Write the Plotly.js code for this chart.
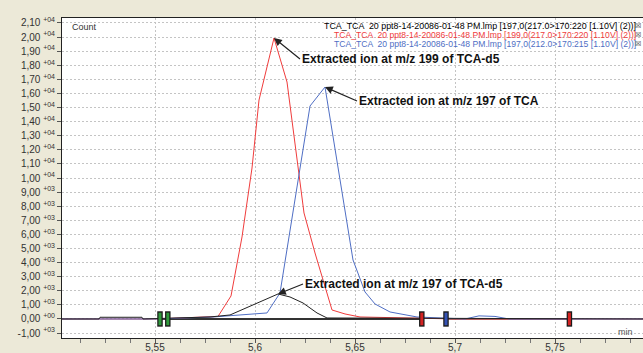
<!DOCTYPE html>
<html>
<head>
<meta charset="utf-8">
<script src="https://cdn.plot.ly/plotly-3.0.1.min.js"></script>
<style>html,body{margin:0;padding:0;background:#ECE9D8;}#chart{width:643px;height:353px;}</style>
</head>
<body>
<div id="chart"></div>
<script>
// ---- data (retention time in min, counts) ----
const redTime   = [5.5035, 5.55, 5.5815, 5.588, 5.5935, 5.5985, 5.602, 5.6095, 5.616, 5.6215, 5.6245, 5.63, 5.6385, 5.645, 5.6525, 5.70, 5.794];
const redCounts = [0, 0, 177, 1631, 5816, 10709, 15532, 19929, 16809, 10567, 7518, 4681, 638, 355, 142, 0, 0];

const blueTime   = [5.5035, 5.55, 5.579, 5.606, 5.6125, 5.6225, 5.6275, 5.635, 5.649, 5.655, 5.66, 5.6675, 5.681, 5.705, 5.712, 5.72, 5.727, 5.794];
const blueCounts = [0, 0, 142, 426, 1844, 10780, 15106, 16454, 4184, 1915, 1064, 496, 142, 0, 220, 180, 0, 0];

const blackTime   = [5.5035, 5.522, 5.5225, 5.5435, 5.544, 5.5775, 5.5875, 5.5975, 5.604, 5.6115, 5.6175, 5.624, 5.631, 5.636, 5.794];
const blackCounts = [0, 0, 120, 120, 0, 142, 284, 922, 1348, 1773, 1560, 1135, 426, 71, 0];

const baseTime1 = [5.5525, 5.6834];
const baseCounts1 = [0, 0];
const baseTime2 = [5.6955, 5.7572];
const baseCounts2 = [0, 0];

const markerTime  = [5.5525, 5.5564, 5.6834, 5.6955, 5.7572];
const markerCounts = [0, 0, 0, 0, 0];
const markerColor = ['#2f9a3c', '#2f9a3c', '#d42222', '#3452b4', '#d42222'];

const xTickVals   = [5.55, 5.6, 5.65, 5.7, 5.75];
const xTickLabels = ['5,55', '5,6', '5,65', '5,7', '5,75'];

const yTickVals = [-1000, 0, 1000, 2000, 3000, 4000, 5000, 6000, 7000, 8000, 9000,
  10000, 11000, 12000, 13000, 14000, 15000, 16000, 17000, 18000, 19000, 20000, 21000];
const yTickMantissa = ['-1,00', '0,00', '1,00', '2,00', '3,00', '4,00', '5,00', '6,00', '7,00', '8,00', '9,00',
  '1,00', '1,10', '1,20', '1,30', '1,40', '1,50', '1,60', '1,70', '1,80', '1,90', '2,00', '2,10'];
const yTickExponent = ['+03', '+00', '+03', '+03', '+03', '+03', '+03', '+03', '+03', '+03', '+03',
  '+04', '+04', '+04', '+04', '+04', '+04', '+04', '+04', '+04', '+04', '+04', '+04'];

const legendLines = [
  'TCA_TCA  20 ppt8-14-20086-01-48 PM.lmp [197,0(217.0>170:220 [1.10V] (2))]',
  'TCA_TCA  20 ppt8-14-20086-01-48 PM.lmp [199,0(217.0>170:220 [1.10V] (2))]',
  'TCA_TCA  20 ppt8-14-20086-01-48 PM.lmp [197,0(212.0>170:215 [1.10V] (2))]'
];
const peakLabels = [
  'Extracted ion at m/z 199 of TCA-d5',
  'Extracted ion at m/z 197 of TCA',
  'Extracted ion at m/z 197 of TCA-d5'
];

// ---- styling ----
const RED = '#f03c3c', BLUE = '#4f6ec4', BLACK = '#222222';
const yTickText = yTickMantissa.map((m, i) => m + ' <sup>' + yTickExponent[i] + '</sup>');

function peakIndex(arr) { let k = 0; arr.forEach((v, i) => { if (v > arr[k]) k = i; }); return k; }
const rp = peakIndex(redCounts), bp = peakIndex(blueCounts), kp = peakIndex(blackCounts);

const traces = [
  {x: baseTime1, y: baseCounts1, mode: 'lines', line: {color: '#333', width: 2}, hoverinfo: 'skip'},
  {x: baseTime2, y: baseCounts2, mode: 'lines', line: {color: '#555', width: 1.5}, hoverinfo: 'skip'},
  {x: redTime, y: redCounts, mode: 'lines', line: {color: RED, width: 1}},
  {x: blueTime, y: blueCounts, mode: 'lines', line: {color: BLUE, width: 1}},
  {x: blackTime, y: blackCounts, mode: 'lines', line: {color: BLACK, width: 1}},
  {x: markerTime, y: markerCounts, mode: 'markers', hoverinfo: 'skip',
   marker: {symbol: 'line-ns', size: 11, line: {color: '#1a1a1a', width: 5.5}}},
  {x: markerTime, y: markerCounts, mode: 'markers', hoverinfo: 'skip',
   marker: {symbol: 'line-ns', size: 9, line: {color: markerColor, width: 3}}}
];

const legendColors = ['#000000', '#f03c3c', '#4f6ec4'];
const legendSizes = [8.9, 8.6, 8.6];
const legendY = [0.975, 0.947, 0.919];
const annotations = [];
legendLines.forEach((t, i) => {
  annotations.push({xref: 'paper', yref: 'paper', x: 0.9914, y: legendY[i], xanchor: 'right', yanchor: 'middle',
    text: t, showarrow: false, font: {family: 'Liberation Sans, Arial', size: legendSizes[i], color: legendColors[i]}});
  annotations.push({xref: 'paper', yref: 'paper', x: 1.0, y: legendY[i], xanchor: 'right', yanchor: 'middle',
    text: '☒', showarrow: false, font: {family: 'DejaVu Sans', size: 7, color: '#333'}});
});
const arrowDefs = [
  {x: redTime[rp], y: redCounts[rp], ax: 26, ay: 21, text: peakLabels[0]},
  {x: blueTime[bp], y: blueCounts[bp], ax: 32, ay: 14, text: peakLabels[1]},
  {x: blackTime[kp], y: blackCounts[kp], ax: 25, ay: -10, text: peakLabels[2]}
];
arrowDefs.forEach(a => {
  annotations.push({x: a.x, y: a.y, xref: 'x', yref: 'y', ax: a.ax, ay: a.ay,
    text: '<b>' + a.text + '</b>', showarrow: true, arrowhead: 2, arrowsize: 1.3, arrowwidth: 1.2,
    arrowcolor: '#222', standoff: 0, xanchor: 'left', yanchor: 'middle',
    font: {family: 'Liberation Sans, Arial', size: 12, color: '#111'}});
});
annotations.push({xref: 'paper', yref: 'paper', x: 0.0138, y: 0.972, xanchor: 'left', yanchor: 'middle',
  text: 'Count', showarrow: false, font: {family: 'Liberation Sans, Arial', size: 9, color: '#333'}});
annotations.push({xref: 'paper', yref: 'paper', x: 0.9707, y: 0.02, xanchor: 'center', yanchor: 'middle',
  text: 'min', showarrow: false, font: {family: 'Liberation Sans, Arial', size: 9, color: '#555'}});

const layout = {
  width: 643, height: 353,
  margin: {l: 62, r: 0, t: 18, b: 15, pad: 0},
  paper_bgcolor: '#ECE9D8', plot_bgcolor: '#ffffff',
  showlegend: false,
  xaxis: {
    range: [5.5035, 5.794], tickmode: 'array', tickvals: xTickVals, ticktext: xTickLabels,
    ticks: 'outside', ticklen: 4, tickcolor: '#555', ticklabelstandoff: -4,
    showline: true, linecolor: '#222', linewidth: 1, mirror: true,
    showgrid: true, gridcolor: '#c4c4c4', griddash: '2px,2px', gridwidth: 1, zeroline: false,
    tickfont: {family: 'Liberation Sans, Arial', size: 10, color: '#333'},
    minor: {dtick: 0.0125, tick0: 5.5, ticks: 'outside', ticklen: 4, tickcolor: '#777', showgrid: false}
  },
  yaxis: {
    range: [-1350, 21350], tickmode: 'array', tickvals: yTickVals, ticktext: yTickText,
    ticks: 'outside', ticklen: 4, tickcolor: '#555',
    showline: true, linecolor: '#222', linewidth: 1,
    showgrid: true, gridcolor: '#c4c4c4', griddash: '2px,2px', gridwidth: 1, zeroline: false,
    tickfont: {family: 'Liberation Sans, Arial', size: 10, color: '#333'}
  },
  annotations: annotations
};

Plotly.newPlot('chart', traces, layout, {staticPlot: true, displayModeBar: false});
</script>
</body>
</html>
